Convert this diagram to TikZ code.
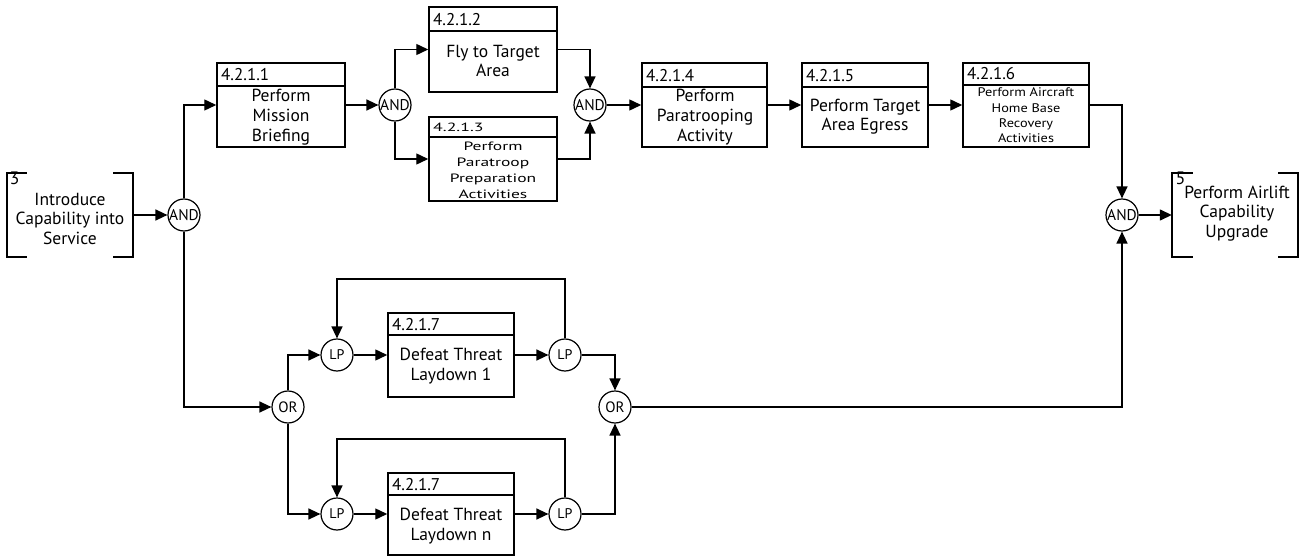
\documentclass[tikz,border=0pt]{standalone}
\usepackage{fontspec}
\usepackage{graphicx}
\setmainfont{PT Sans}
\usetikzlibrary{arrows.meta}
\tikzset{
  arr/.style={line width=1.4pt, -{Triangle[length=12pt,width=11pt]}},
  box/.style={draw, line width=1.5pt, inner sep=0pt, minimum width=#1},
  gate/.style={circle, draw, line width=1.2pt, inner sep=0pt, minimum size=32pt, font=\fontsize{15.5}{15.5}\selectfont},
  orgate/.style={gate, font=\fontsize{15}{15}\selectfont},
  lpgate/.style={gate, font=\fontsize{14}{14}\selectfont},
  hdr/.style={anchor=base west, inner sep=0pt, font=\fontsize{17}{17}\selectfont},
  num/.style={anchor=base west, inner sep=0pt, font=\fontsize{18}{18}\selectfont},
  txt/.style={anchor=north, inner sep=0pt},
  brk/.style={inner sep=0pt}
}
% \bt{size}{skip}{vscale}{lines}
\newcommand\bt[4]{\scalebox{1}[#3]{\fontsize{#1}{#2}\selectfont\begin{tabular}{@{}c@{}}#4\end{tabular}}}
% \actbox{name}{left}{top}{header}{bottom}{right}{label}
\newcommand\actbox[7]{%
  \node[box=#6-#2 pt, minimum height=#5-#3 pt] (#1) at ({(#2+#6)/2},{(#3+#5)/2}) {};
  \draw[line width=1.2pt] (#2,#4) -- (#6,#4);
  \node[hdr] (#1h) at (#2+4,#4-5) {#7};
}
\begin{document}
\begin{tikzpicture}[x=1pt,y=-1pt]
\useasboundingbox (0,0) rectangle (1302,559);

% bracket 3
\node[brk, minimum width=126pt, minimum height=84pt] (br3) at (70,215) {};
\draw[line width=1.5pt] ([xshift=20pt]br3.north west) -- (br3.north west) -- (br3.south west) -- ([xshift=20pt]br3.south west);
\draw[line width=1.5pt] ([xshift=-20pt]br3.north east) -- (br3.north east) -- (br3.south east) -- ([xshift=-20pt]br3.south east);
\node[num] (br3n) at (9.5,185) {3};
\node[txt] (br3t) at (70,191.6) {\bt{17.5}{19.5}{1}{Introduce\\Capability into\\Service}};

% bracket 5
\node[brk, minimum width=126pt, minimum height=84pt] (br5) at (1235,215) {};
\draw[line width=1.5pt] ([xshift=21pt]br5.north west) -- (br5.north west) -- (br5.south west) -- ([xshift=21pt]br5.south west);
\draw[line width=1.5pt] ([xshift=-20pt]br5.north east) -- (br5.north east) -- (br5.south east) -- ([xshift=-20pt]br5.south east);
\node[num] (br5n) at (1175.5,185) {5};
\node[txt] (br5t) at (1237,184.5) {\bt{17.5}{19.5}{1}{Perform Airlift\\Capability\\Upgrade}};

% gates
\node[gate] (and1) at (184,215) {AND};
\node[gate] (and2) at (395,105) {AND};
\node[gate] (and3) at (590,105) {AND};
\node[gate] (and4) at (1122,215) {AND};
\node[orgate] (or1) at (288,407) {OR};
\node[orgate] (or2) at (615,407) {OR};
\node[lpgate] (lp1) at (337,355) {LP};
\node[lpgate] (lp2) at (565,355) {LP};
\node[lpgate] (lp3) at (337,514) {LP};
\node[lpgate] (lp4) at (565,514) {LP};

% boxes
\actbox{b1}{217}{63}{86}{147}{345}{4.2.1.1}
\node[txt] (b1t) at (281,87.7) {\bt{17.5}{20}{1}{Perform\\Mission\\Briefing}};
\actbox{b2}{429}{7}{31}{92}{557}{4.2.1.2}
\node[txt] (b2t) at (493,44) {\bt{17.5}{19}{1}{Fly to Target\\Area}};
\actbox{b3}{429}{117}{137}{201}{557}{\scalebox{1.05}[0.7]{4.2.1.3}}
\node[txt] (b3t) at (493,139.5) {\bt{17.5}{23}{0.69}{Perform\\Paratroop\\Preparation\\Activities}};
\actbox{b4}{642}{63}{87}{147}{767}{4.2.1.4}
\node[txt] (b4t) at (705,87.7) {\bt{17.5}{20}{1}{Perform\\Paratrooping\\Activity}};
\actbox{b5}{802}{63}{87}{147}{928}{4.2.1.5}
\node[txt] (b5t) at (865,97.7) {\bt{17.5}{19}{1}{Perform Target\\Area Egress}};
\actbox{b6}{963}{63}{85}{147}{1089}{4.2.1.6}
\node[txt] (b6t) at (1026,86) {\bt{14.3}{17.5}{0.87}{Perform Aircraft\\Home Base\\Recovery\\Activities}};
\actbox{b7}{388}{313}{335}{397}{514}{4.2.1.7}
\node[txt] (b7t) at (451,347) {\bt{17.5}{19.5}{1}{Defeat Threat\\Laydown 1}};
\actbox{b8}{388}{473}{495}{555}{514}{4.2.1.7}
\node[txt] (b8t) at (451,507) {\bt{17.5}{19.5}{1}{Defeat Threat\\Laydown n}};

% loop tops
\coordinate (t1) at (565,279);
\coordinate (t2) at (565,439);

% connectors
\draw[arr] (br3.east) -- (and1.west);
\draw[arr] (and1.north) |- (b1.west);
\draw[arr] (and1.south) |- (or1.west);
\draw[arr] (b1.east) -- (and2.west);
\draw[arr] (and2.north) |- (b2.west);
\draw[arr] (and2.south) |- (b3.west);
\draw[arr] (b2.east) -| (and3.north);
\draw[arr] (b3.east) -| (and3.south);
\draw[arr] (and3.east) -- (b4.west);
\draw[arr] (b4.east) -- (b5.west);
\draw[arr] (b5.east) -- (b6.west);
\draw[arr] (b6.east) -| (and4.north);
\draw[arr] (and4.east) -- (br5.west);

\draw[arr] (or1.north) |- (lp1.west);
\draw[arr] (lp1.east) -- (b7.west);
\draw[arr] (b7.east) -- (lp2.west);
\draw[arr] (lp2.north) -- (t1) -| (lp1.north);
\draw[arr] (lp2.east) -| (or2.north);

\draw[arr] (or1.south) |- (lp3.west);
\draw[arr] (lp3.east) -- (b8.west);
\draw[arr] (b8.east) -- (lp4.west);
\draw[arr] (lp4.north) -- (t2) -| (lp3.north);
\draw[arr] (lp4.east) -| (or2.south);

\draw[arr] (or2.east) -| (and4.south);
\end{tikzpicture}
\end{document}
